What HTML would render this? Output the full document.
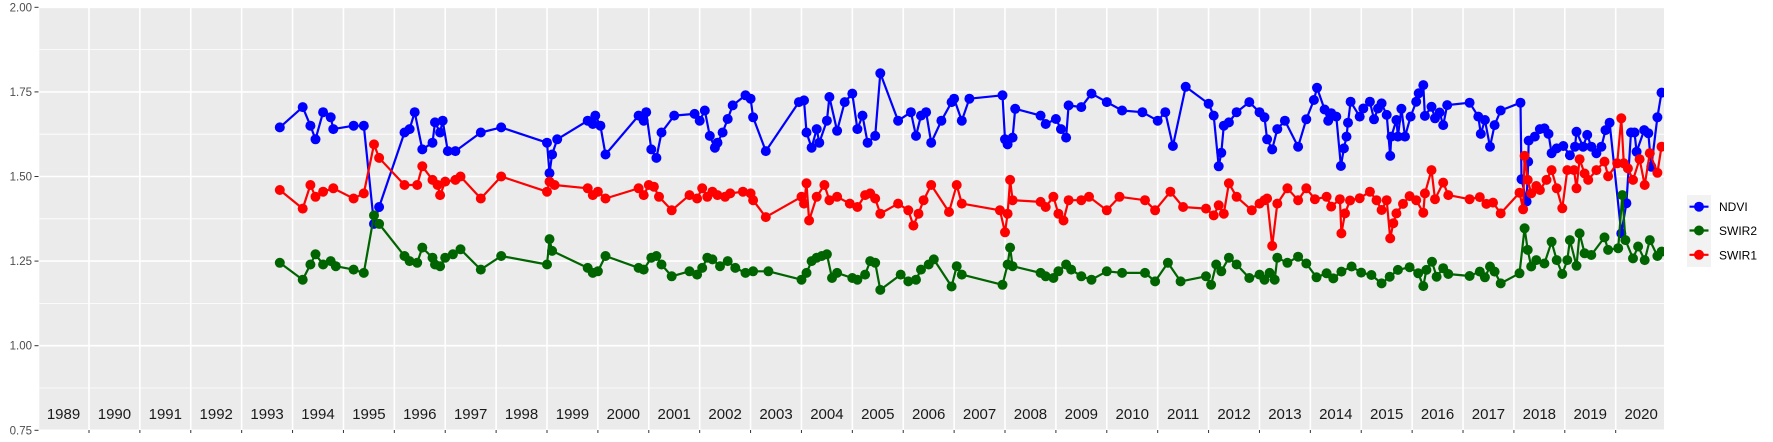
<!DOCTYPE html>
<html><head><meta charset="utf-8"><style>
html,body{margin:0;padding:0;background:#fff;}
svg{display:block;}
</style></head><body>
<svg id="s" width="1773" height="442" xmlns="http://www.w3.org/2000/svg" font-family="Liberation Sans, sans-serif"></svg>
<script>
const S=document.getElementById('s');
const X0=38.1,DX=50.89,L=39.3,R=1664,T=7.3,B=430,PU=338.4;
const xs=t=>X0+(t-1989)*DX, ys=v=>T+(2-v)*PU;
let h='';
h+=`<rect x="${L}" y="${T}" width="${R-L}" height="${B-T}" fill="#ebebeb"/>`;
for(const v of [1.875,1.625,1.375,1.125,0.875]) h+=`<line x1="${L}" x2="${R}" y1="${ys(v)}" y2="${ys(v)}" stroke="#fff" stroke-width="0.8"/>`;
for(const v of [2,1.75,1.5,1.25,1,0.75]){const y=ys(v);
 h+=`<line x1="${L}" x2="${R}" y1="${y}" y2="${y}" stroke="#fff" stroke-width="1.6"/>`;
 h+=`<line x1="34.5" x2="38.5" y1="${y}" y2="${y}" stroke="#333" stroke-width="1"/>`;
 h+=`<text x="32" y="${y+4}" font-size="11.5" fill="#4d4d4d" text-anchor="end">${v.toFixed(2)}</text>`;}
for(let k=1;k<=31;k++){const x=xs(1989+k);
 h+=`<line x1="${x}" x2="${x}" y1="${T}" y2="${B}" stroke="#fff" stroke-width="1.6"/>`;
 h+=`<line x1="${x}" x2="${x}" y1="${B}" y2="${B+3}" stroke="#333" stroke-width="1"/>`;}
for(let k=0;k<32;k++){h+=`<text x="${xs(1989.5+k)}" y="419" font-size="15" fill="#1a1a1a" text-anchor="middle">${1989+k}</text>`;}
const nd=[1993.75,1.645,1994.2,1.705,1994.35,1.65,1994.45,1.61,1994.6,1.69,1994.75,1.675,1994.8,1.64,1995.2,1.65,1995.4,1.65,1995.6,1.36,1995.7,1.41,1996.2,1.63,1996.3,1.64,1996.4,1.69,1996.55,1.58,1996.75,1.6,1996.8,1.66,1996.9,1.63,1996.95,1.665,1997.05,1.575,1997.2,1.575,1997.7,1.63,1998.1,1.645,1999.0,1.60,1999.05,1.51,1999.1,1.565,1999.2,1.61,1999.8,1.665,1999.9,1.655,1999.95,1.68,2000.05,1.65,2000.15,1.565,2000.8,1.68,2000.9,1.665,2000.95,1.69,2001.05,1.58,2001.15,1.555,2001.25,1.63,2001.5,1.68,2001.9,1.685,2002.0,1.665,2002.1,1.695,2002.2,1.62,2002.3,1.585,2002.35,1.6,2002.45,1.63,2002.55,1.67,2002.65,1.71,2002.9,1.74,2003.0,1.73,2003.05,1.675,2003.3,1.575,2003.95,1.72,2004.05,1.725,2004.1,1.63,2004.2,1.585,2004.3,1.64,2004.35,1.6,2004.5,1.665,2004.55,1.735,2004.7,1.635,2004.85,1.72,2005.0,1.745,2005.1,1.64,2005.2,1.68,2005.3,1.6,2005.45,1.62,2005.55,1.805,2005.9,1.665,2006.15,1.69,2006.25,1.62,2006.35,1.68,2006.45,1.69,2006.55,1.60,2006.75,1.665,2006.95,1.72,2007.0,1.73,2007.15,1.665,2007.3,1.73,2007.95,1.74,2008.0,1.61,2008.05,1.595,2008.15,1.615,2008.2,1.70,2008.7,1.68,2008.8,1.655,2009.0,1.67,2009.1,1.64,2009.2,1.615,2009.25,1.71,2009.5,1.705,2009.7,1.745,2010.0,1.72,2010.3,1.695,2010.7,1.69,2011.0,1.665,2011.15,1.69,2011.3,1.59,2011.55,1.765,2012.0,1.715,2012.1,1.68,2012.2,1.53,2012.25,1.57,2012.3,1.65,2012.4,1.66,2012.55,1.69,2012.8,1.72,2013.0,1.69,2013.1,1.675,2013.15,1.61,2013.25,1.58,2013.35,1.64,2013.5,1.665,
2013.76,1.588,2013.92,1.669,2014.07,1.726,2014.13,1.762,2014.28,1.698,2014.35,1.665,2014.41,1.687,2014.51,1.677,2014.6,1.531,2014.66,1.583,2014.71,1.618,2014.74,1.659,2014.79,1.721,2014.97,1.677,2015.04,1.701,2015.17,1.721,2015.25,1.669,2015.33,1.701,2015.4,1.716,2015.5,1.682,2015.57,1.561,2015.59,1.618,2015.69,1.667,2015.72,1.618,2015.79,1.7,2015.86,1.618,2015.97,1.677,2016.08,1.721,2016.13,1.746,2016.22,1.77,2016.25,1.679,2016.38,1.706,2016.45,1.672,2016.54,1.689,2016.61,1.652,2016.69,1.711,2017.13,1.718,2017.3,1.677,2017.35,1.626,2017.43,1.667,2017.53,1.588,2017.62,1.652,2017.74,1.695,2018.13,1.718,2018.15,1.492,2018.25,1.426,2018.28,1.544,2018.29,1.606,2018.41,1.618,2018.51,1.64,2018.6,1.642,2018.68,1.626,2018.74,1.569,2018.84,1.583,2018.97,1.59,2019.1,1.563,2019.2,1.588,2019.23,1.632,2019.36,1.588,2019.44,1.623,2019.52,1.588,2019.62,1.569,2019.72,1.588,2019.8,1.637,2019.88,1.659,2020.11,1.332,2020.21,1.421,2020.3,1.63,2020.37,1.63,2020.41,1.573,2020.56,1.637,2020.64,1.628,2020.7,1.529,2020.82,1.675,2020.9,1.748];
const r1=[1993.75,1.46,1994.2,1.405,1994.35,1.475,1994.45,1.44,1994.6,1.455,1994.8,1.465,1995.2,1.435,1995.4,1.45,1995.6,1.595,1995.7,1.555,1996.2,1.475,1996.45,1.475,1996.55,1.53,1996.75,1.49,1996.85,1.475,1996.9,1.445,1997.0,1.485,1997.2,1.49,1997.3,1.5,1997.7,1.435,1998.1,1.50,1999.0,1.455,1999.05,1.485,1999.15,1.475,1999.8,1.465,1999.9,1.445,2000.0,1.455,2000.15,1.435,2000.8,1.465,2000.9,1.445,2001.0,1.475,2001.1,1.47,2001.2,1.44,2001.45,1.40,2001.8,1.445,2001.95,1.435,2002.05,1.465,2002.15,1.44,2002.25,1.455,2002.35,1.445,2002.5,1.44,2002.6,1.45,2002.85,1.455,2003.0,1.45,2003.05,1.43,2003.3,1.38,2004.0,1.44,2004.05,1.42,2004.1,1.48,2004.15,1.37,2004.3,1.44,2004.45,1.475,2004.55,1.43,2004.7,1.44,2004.95,1.42,2005.1,1.41,2005.25,1.445,2005.35,1.45,2005.45,1.435,2005.55,1.39,2005.9,1.42,2006.1,1.40,2006.2,1.355,2006.3,1.39,2006.4,1.43,2006.55,1.475,2006.9,1.395,2007.05,1.475,2007.15,1.42,2007.9,1.40,2008.0,1.335,2008.05,1.39,2008.1,1.49,2008.15,1.43,2008.7,1.425,2008.8,1.41,2008.95,1.44,2009.05,1.39,2009.15,1.37,2009.25,1.43,2009.5,1.43,2009.65,1.44,2010.0,1.40,2010.25,1.44,2010.75,1.43,2010.95,1.40,2011.25,1.455,2011.5,1.41,2011.95,1.405,2012.1,1.385,2012.2,1.415,2012.3,1.39,2012.4,1.48,2012.55,1.44,2012.85,1.40,2013.0,1.42,2013.1,1.43,2013.15,1.435,2013.25,1.295,2013.35,1.42,2013.55,1.465,
2013.76,1.43,2013.92,1.465,2014.09,1.433,2014.32,1.44,2014.41,1.411,2014.58,1.433,2014.61,1.332,2014.68,1.391,2014.78,1.429,2014.97,1.436,2015.17,1.455,2015.3,1.43,2015.4,1.401,2015.5,1.43,2015.57,1.317,2015.63,1.362,2015.69,1.391,2015.82,1.419,2015.95,1.442,2016.08,1.43,2016.22,1.393,2016.25,1.45,2016.38,1.519,2016.45,1.433,2016.61,1.482,2016.71,1.445,2017.13,1.433,2017.33,1.439,2017.46,1.419,2017.59,1.423,2017.74,1.391,2018.11,1.452,2018.18,1.403,2018.21,1.561,2018.27,1.49,2018.34,1.45,2018.44,1.472,2018.51,1.46,2018.64,1.49,2018.74,1.519,2018.84,1.465,2018.95,1.406,2019.05,1.519,2019.18,1.519,2019.23,1.465,2019.29,1.551,2019.39,1.509,2019.46,1.49,2019.62,1.519,2019.78,1.544,2019.85,1.501,2020.03,1.539,2020.11,1.672,2020.16,1.539,2020.24,1.524,2020.34,1.49,2020.47,1.551,2020.57,1.475,2020.67,1.569,2020.82,1.511,2020.9,1.588];
const r2=[1993.75,1.245,1994.2,1.195,1994.35,1.24,1994.45,1.27,1994.6,1.24,1994.75,1.25,1994.85,1.235,1995.2,1.225,1995.4,1.215,1995.6,1.385,1995.7,1.36,1996.2,1.265,1996.3,1.25,1996.45,1.245,1996.55,1.29,1996.75,1.26,1996.8,1.24,1996.9,1.235,1997.0,1.26,1997.15,1.27,1997.3,1.285,1997.7,1.225,1998.1,1.265,1999.0,1.24,1999.05,1.315,1999.1,1.28,1999.8,1.23,1999.9,1.215,2000.0,1.22,2000.15,1.265,2000.8,1.23,2000.9,1.225,2001.05,1.26,2001.15,1.265,2001.25,1.24,2001.45,1.205,2001.8,1.22,2001.95,1.21,2002.05,1.23,2002.15,1.26,2002.25,1.255,2002.4,1.235,2002.55,1.25,2002.7,1.23,2002.9,1.215,2003.05,1.22,2003.35,1.22,2004.0,1.195,2004.1,1.215,2004.2,1.25,2004.3,1.26,2004.4,1.265,2004.5,1.27,2004.6,1.2,2004.7,1.215,2005.0,1.2,2005.1,1.195,2005.25,1.21,2005.35,1.25,2005.45,1.245,2005.55,1.165,2005.95,1.21,2006.1,1.19,2006.25,1.195,2006.35,1.225,2006.5,1.24,2006.6,1.255,2006.95,1.175,2007.05,1.235,2007.15,1.21,2007.95,1.18,2008.05,1.24,2008.1,1.29,2008.15,1.235,2008.7,1.215,2008.8,1.205,2008.95,1.2,2009.05,1.22,2009.2,1.24,2009.3,1.225,2009.5,1.205,2009.7,1.195,2010.0,1.22,2010.3,1.215,2010.75,1.215,2010.95,1.19,2011.2,1.245,2011.45,1.19,2011.95,1.205,2012.05,1.18,2012.15,1.24,2012.25,1.22,2012.4,1.26,2012.55,1.24,2012.8,1.20,2013.0,1.21,2013.1,1.195,2013.2,1.215,2013.3,1.195,2013.35,1.26,2013.55,1.245,
2013.76,1.263,2013.92,1.243,2014.12,1.202,2014.32,1.214,2014.45,1.199,2014.61,1.219,2014.81,1.234,2015.0,1.216,2015.2,1.209,2015.4,1.184,2015.56,1.204,2015.72,1.224,2015.95,1.232,2016.12,1.214,2016.22,1.176,2016.28,1.224,2016.39,1.248,2016.48,1.204,2016.61,1.229,2016.71,1.212,2017.13,1.206,2017.33,1.219,2017.43,1.202,2017.53,1.234,2017.62,1.219,2017.74,1.184,2018.11,1.214,2018.21,1.347,2018.27,1.283,2018.34,1.234,2018.44,1.253,2018.6,1.243,2018.74,1.307,2018.84,1.253,2018.95,1.212,2019.05,1.253,2019.1,1.312,2019.23,1.236,2019.29,1.332,2019.39,1.273,2019.52,1.268,2019.78,1.32,2019.85,1.283,2020.05,1.288,2020.13,1.445,2020.19,1.312,2020.34,1.258,2020.44,1.293,2020.57,1.253,2020.67,1.312,2020.82,1.265,2020.9,1.278];
function ser(d,c){let p='',m='';for(let i=0;i<d.length;i+=2){const x=xs(d[i]).toFixed(1),y=ys(d[i+1]).toFixed(1);p+=(i?'L':'M')+x+' '+y;m+=`<circle cx="${x}" cy="${y}" r="5"/>`;}
 return `<path d="${p}" fill="none" stroke="${c}" stroke-width="2.2" stroke-linejoin="round"/><g fill="${c}">${m}</g>`;}
h+=`<clipPath id="c"><rect x="${L}" y="${T}" width="${R-L}" height="${B-T}"/></clipPath><g clip-path="url(#c)">`+ser(nd,'#0000ff')+ser(r2,'#006400')+ser(r1,'#ff0000')+'</g>';
h+=`<line x1="38.5" x2="38.5" y1="${T}" y2="${B}" stroke="none"/>`;
// legend
h+=`<rect x="1687" y="195" width="24" height="72" fill="#f2f2f2"/>`;
[['NDVI','#0000ff',206.7],['SWIR2','#006400',230.5],['SWIR1','#ff0000',254.8]].forEach(([n,c,y])=>{
 h+=`<line x1="1689.5" x2="1708.5" y1="${y}" y2="${y}" stroke="${c}" stroke-width="2.2"/><circle cx="1699" cy="${y}" r="5" fill="${c}"/>`;
 h+=`<text x="1719" y="${y+4.5}" font-size="12" fill="#000">${n}</text>`;});
S.innerHTML=h;
</script>
</body></html>
